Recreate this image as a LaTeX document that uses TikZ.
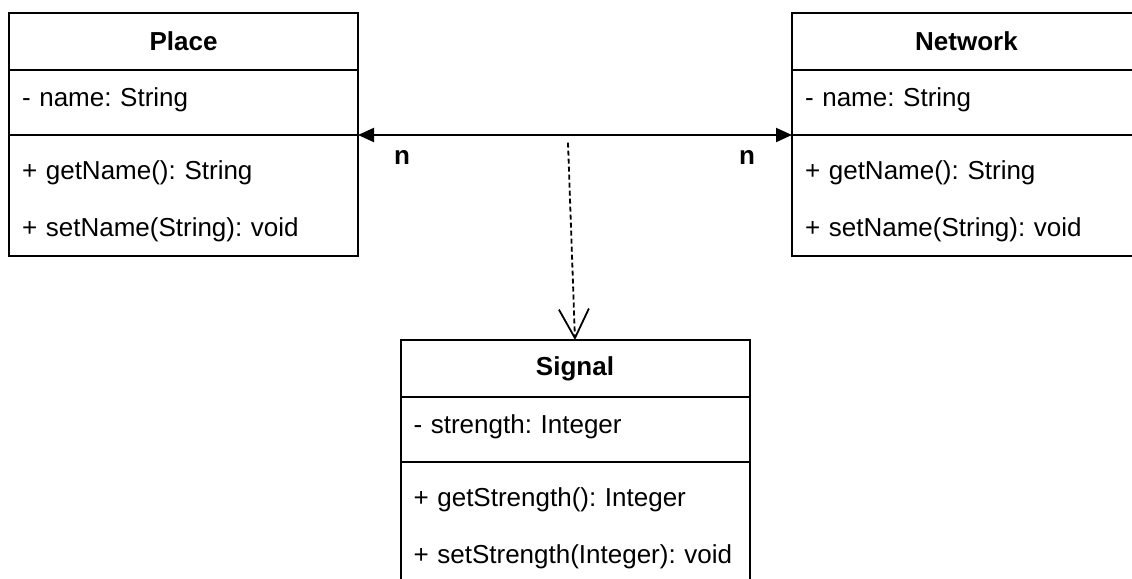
\documentclass[tikz,border=0pt]{standalone}
\usepackage{fontspec}
\setmainfont{Liberation Sans}
\frenchspacing
\usetikzlibrary{arrows.meta, positioning}
\newcommand{\classfont}{\fontsize{13pt}{28.5pt}\selectfont}
\tikzset{
  classhead/.style={rectangle, draw=black, line width=1pt, outer sep=0pt, inner sep=0pt,
                    minimum width=174.5pt, minimum height=28.5pt,
                    font=\fontsize{13pt}{16pt}\selectfont\bfseries},
  classpart/.style={rectangle, draw=black, line width=1pt, outer sep=0pt,
                    text width=161.5pt, inner xsep=6.5pt, inner ysep=0pt, align=left, font=\classfont},
  attrs/.style={classpart, minimum height=32.5pt, text depth=5.7pt},
  ops/.style={classpart, minimum height=60.5pt, text depth=25.3pt},
  assoc/.style={{Triangle[length=8pt,width=7pt]}-{Triangle[length=8pt,width=7pt]}, line width=1pt},
  depline/.style={-{Straight Barb[length=14.5pt,width=15pt]}, line width=0.9pt, dash pattern=on 2.5pt off 1.5pt},
  mult/.style={inner sep=0pt, font=\fontsize{13pt}{16pt}\selectfont\bfseries}
}
\begin{document}
\begin{tikzpicture}
  \clip (0,0) rectangle (566pt,-289.5pt);
  % classes
  \node[classhead, anchor=north west] (placehead) at (4.5pt,-6.5pt) {Place};
  \node[attrs, below=0pt of placehead] (placeattr) {- name: String};
  \node[ops, below=0pt of placeattr] (placeops) {+ getName(): String\\+ setName(String): void};

  \node[classhead, right=217pt of placehead] (nethead) {Network};
  \node[attrs, below=0pt of nethead] (netattr) {- name: String};
  \node[ops, below=0pt of netattr] (netops) {+ getName(): String\\+ setName(String): void};

  \node[classhead, anchor=north] (sighead) at (287.5pt,-170pt) {Signal};
  \node[attrs, below=0pt of sighead] (sigattr) {- strength: Integer};
  \node[ops, below=0pt of sigattr] (sigops) {+ getStrength(): Integer\\+ setStrength(Integer): void};

  % relations
  \draw[assoc] (placeattr.south east) -- (netattr.south west)
    node[mult, at start, below right=7pt and 17.5pt] {n}
    node[mult, at end, below left=7pt and 18pt] {n};
  \coordinate (depstart) at (284pt,-71.3pt);
  \draw[depline] (depstart) -- (sighead.north);
\end{tikzpicture}
\end{document}
